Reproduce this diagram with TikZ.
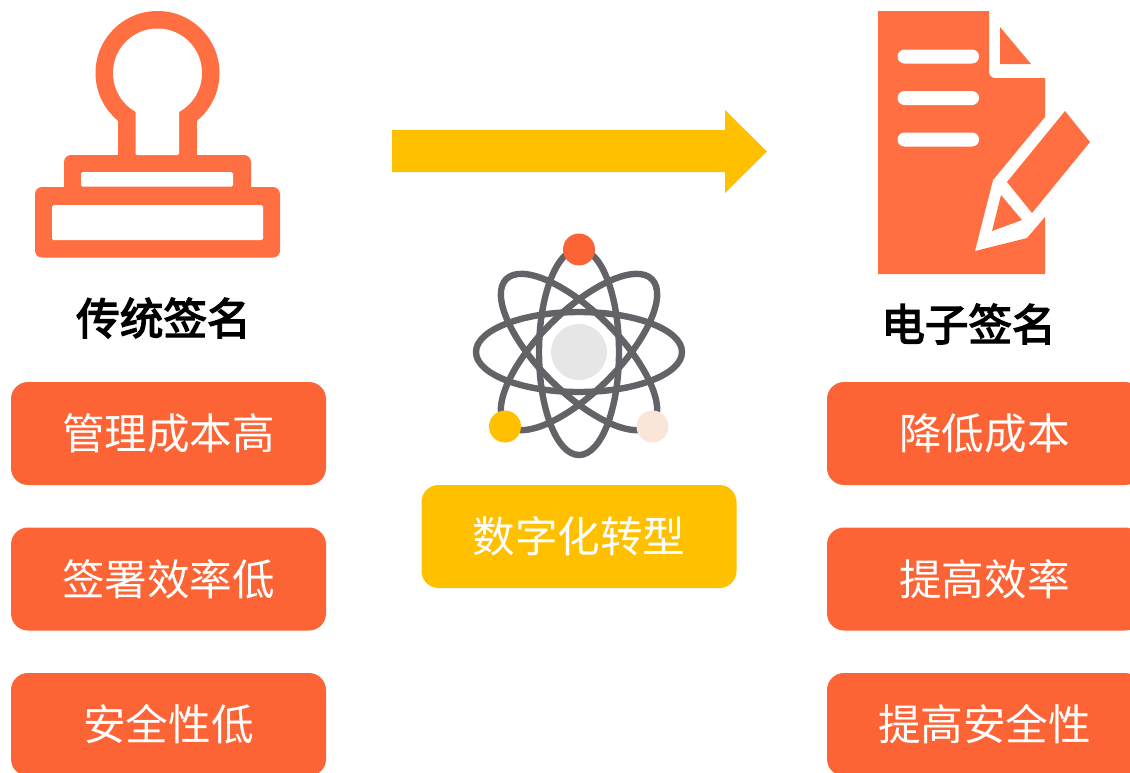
\documentclass[tikz,border=0pt]{standalone}
\usepackage{fontspec}
\setmainfont{Noto Sans CJK SC}
\newfontfamily\headfont[FakeBold=3.2]{Noto Sans CJK SC}
\definecolor{iconorange}{HTML}{FF6F42}
\definecolor{boxorange}{HTML}{FC6435}
\definecolor{amber}{HTML}{FFC000}
\definecolor{ringgrey}{HTML}{636266}
\definecolor{corelight}{HTML}{E6E6E6}
\definecolor{peach}{HTML}{FAE5D9}
\tikzset{
  label box/.style={fill=#1,rounded corners=17pt,minimum width=315pt,minimum height=103pt,inner sep=0pt,text=white,font=\fontsize{42.6pt}{50pt}\selectfont,anchor=center},
  heading/.style={text=black,inner sep=0pt,font=\fontsize{43.6pt}{50pt}\headfont},
  ring/.style={draw=ringgrey,line width=6.4pt},
  icon/.style={fill=iconorange,draw=none},
  hole/.style={fill=white,draw=none},
  dot/.style={circle,minimum size=#1,inner sep=0pt,draw=none}
}
\begin{document}
\begin{tikzpicture}[x=1pt,y=-1pt]
\useasboundingbox (0,0) rectangle (1130,772);
\clip (0,0) rectangle (1130,772);
% stamp icon
\fill[icon] (157.5,73) circle [radius=62pt];
\fill[icon] (118,105) rectangle (197,165);
\fill[icon,rounded corners=7pt] (64,155) rectangle (251,205);
\fill[icon,rounded corners=7pt] (35,187) rectangle (280,257.5);
\fill[hole] (157.5,73) circle [radius=44.5pt];
\fill[hole,rounded corners=1.5pt] (135.5,100) rectangle (179,155);
\fill[hole,rounded corners=1.5pt] (81,172) rectangle (233,186.5);
\fill[hole,rounded corners=1.5pt] (52,205) rectangle (263,240);
% arrow
\fill[amber] (392,130) -- (725,130) -- (725,110) -- (767,151.5) -- (725,193) -- (725,172) -- (392,172) -- cycle;
% document icon
\fill[icon] (878,11) -- (989,11) -- (989,70) [rounded corners=6pt] -- (989,78) [sharp corners] -- (1045,78) -- (1045,117) -- (993,180) -- (975,251) -- (1027,238) -- (1045,217) -- (1045,274) -- (878,274) -- cycle;
\fill[icon] (1000,27) -- (1000,64) -- (1031,64) -- cycle;
\fill[icon] (1065,111) -- (1090,142) -- (1032,213) -- (1007,182) -- cycle;
\fill[icon] (1001,195) -- (1022,220) -- (992,231) -- cycle;
\fill[hole,rounded corners=7pt] (897.5,49.5) rectangle (979,63.5);
\fill[hole,rounded corners=7pt] (897.5,91) rectangle (979,105);
\fill[hole,rounded corners=7pt] (897.5,132.5) rectangle (979,146.5);
% atom
\node[dot=56pt,fill=corelight] (core) at (579,352) {};
\draw[ring] (core.center) ellipse [x radius=103pt,y radius=40pt];
\draw[ring] (core.center) ellipse [x radius=40pt,y radius=103pt];
\draw[ring,rotate around={45:(core.center)}] (core.center) ellipse [x radius=103pt,y radius=40pt];
\draw[ring,rotate around={-45:(core.center)}] (core.center) ellipse [x radius=103pt,y radius=40pt];
\node[dot=32pt,fill=boxorange] (dottop) at (579,249.5) {};
\node[dot=32pt,fill=amber] (dotleft) at (505,426.5) {};
\node[dot=32pt,fill=peach] (dotright) at (652.5,426.5) {};
% headings
\node[heading] (headl) at (163.5,318) {传统签名};
\node[heading] (headr) at (968.5,324) {电子签名};
% boxes
\node[label box=boxorange] (l1) at (168.5,433.5) {管理成本高};
\node[label box=boxorange] (l2) at (168.5,579) {签署效率低};
\node[label box=boxorange] (l3) at (168.5,724.5) {安全性低};
\node[label box=amber] (c1) at (579,536.5) {数字化转型};
\node[label box=boxorange] (r1) at (984.5,433.5) {降低成本};
\node[label box=boxorange] (r2) at (984.5,579) {提高效率};
\node[label box=boxorange] (r3) at (984.5,724.5) {提高安全性};
\end{tikzpicture}
\end{document}
